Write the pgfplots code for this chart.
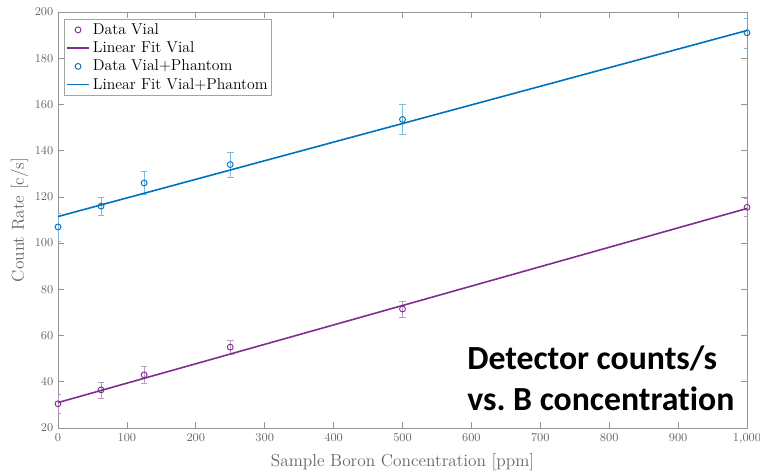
\documentclass[border=0pt]{standalone}
\usepackage{pgfplots}
\pgfplotsset{compat=1.18}
\usepackage{fontspec}
\newfontfamily\carlito[Ligatures=NoCommon]{Carlito}
\definecolor{mpurple}{rgb}{0.494,0.184,0.556}
\definecolor{mblue}{rgb}{0,0.447,0.741}
\definecolor{lblgray}{rgb}{0.40,0.40,0.40}
\begin{document}
\begin{tikzpicture}
\begin{axis}[
  scale only axis, width=516.75pt, height=312pt,
  xmin=0, xmax=1000, ymin=20, ymax=200,
  xtick={0,100,...,1000}, ytick={20,40,...,200},
  tick align=inside, major tick length=4.5pt,
  axis line style={draw=lblgray!70, line width=0.5pt},
  tick style={draw=lblgray!70, line width=0.5pt},
  ticklabel style={font=\fontsize{9.5}{10}\selectfont, text=lblgray},
  xticklabel style={yshift=-1pt},
  scaled ticks=false,
  xlabel={Sample Boron Concentration [ppm]},
  ylabel={Count Rate [c/s]},
  label style={font=\fontsize{13}{14}\selectfont, text=lblgray},
  ylabel style={yshift=-2pt},
  legend cell align=left,
  legend style={font=\fontsize{11.8}{13}\selectfont, draw=lblgray!60, line width=0.5pt, inner sep=1pt, row sep=0pt, at={(0.009,0.983)}, anchor=north west},
]
\addplot[only marks, mark=o, mark size=2.2pt, color=mpurple, line width=0.7pt,
  error bars/.cd, y dir=both, y explicit,
  error bar style={mpurple!50, line width=0.5pt}, error mark options={rotate=90, mark size=2.5pt, mpurple!50}]
  coordinates {(0,30.5) +- (0,4) (62.5,36.5) +- (0,3.5) (125,43) +- (0,3.5) (250,55) +- (0,3) (500,71.5) +- (0,3.5) (1000,115.5) +- (0,4)};
\addlegendentry{Data Vial}
\addplot[color=mpurple, line width=1.2pt] coordinates {(0,31) (1000,115)};
\addlegendentry{Linear Fit Vial}
\addplot[only marks, mark=o, mark size=2.2pt, color=mblue, line width=0.7pt,
  error bars/.cd, y dir=both, y explicit,
  error bar style={mblue!50, line width=0.5pt}, error mark options={rotate=90, mark size=2.5pt, mblue!50}]
  coordinates {(0,107) +- (0,6) (62.5,116) +- (0,4) (125,126) +- (0,5) (250,134) +- (0,5.5) (500,153.5) +- (0,6.5) (1000,191) +- (0,6.5)};
\addlegendentry{Data Vial+Phantom}
\addplot[color=mblue, line width=1.2pt] coordinates {(0,111.5) (1000,192)};
\addlegendentry{Linear Fit Vial+Phantom}
\node[anchor=base west, inner sep=0pt, font=\carlito\bfseries\fontsize{25.3}{30}\selectfont] at (rel axis cs:0.5936,0.1418) {Detector counts/s};
\node[anchor=base west, inner sep=0pt, font=\carlito\bfseries\fontsize{25.3}{30}\selectfont] at (rel axis cs:0.5936,0.0409) {vs.\ B concentration};
\end{axis}
\pgfresetboundingbox
\path (current axis.south west) ++(-43.5pt,-32.25pt) coordinate (bbl);
\path (current axis.north east) ++(9.75pt,9pt) coordinate (bbr);
\useasboundingbox (bbl) rectangle (bbr);
\end{tikzpicture}
\end{document}
